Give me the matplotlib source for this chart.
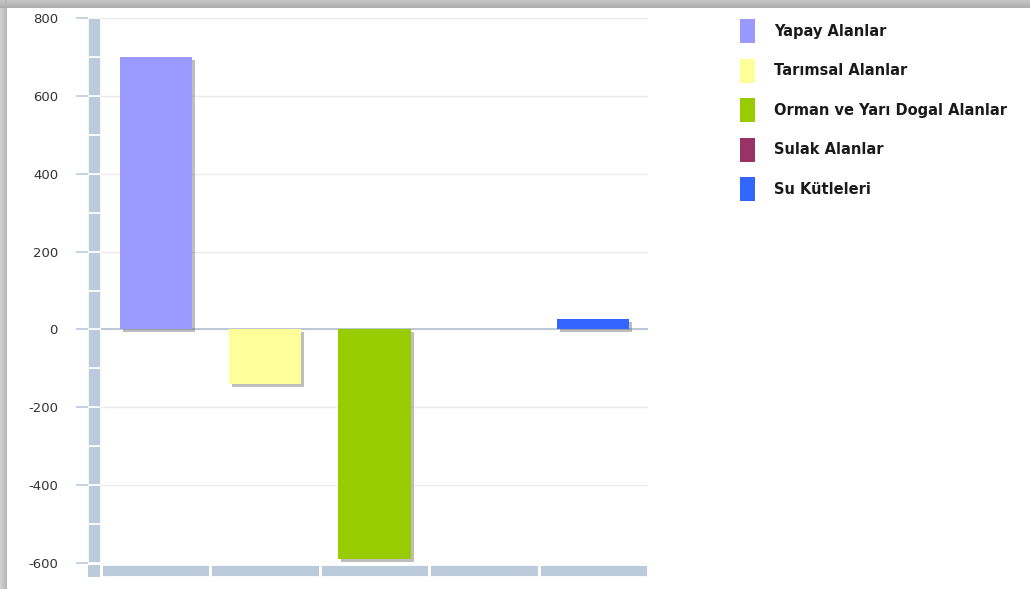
import numpy as np
import matplotlib
matplotlib.use("Agg")
import matplotlib.pyplot as plt
from matplotlib.patches import Patch
import matplotlib.patheffects as pe

plt.rcParams["axes.unicode_minus"] = False

# ---- data ----
categories = ["Yapay Alanlar", "Tarımsal Alanlar", "Orman ve Yarı Dogal Alanlar",
              "Sulak Alanlar", "Su Kütleleri"]
values = [700, -140, -590, 0, 28]
colors = ["#9999ff", "#ffff99", "#99cc00", "#993366", "#3366ff"]
yticks = [-600, -400, -200, 0, 200, 400, 600, 800]

W, H = 1030, 589
fig = plt.figure(figsize=(W / 100, H / 100), dpi=100)
fig.patch.set_facecolor("white")

# ---- card shadow frame (top and left) ----
bg = fig.add_axes([0, 0, 1, 1], zorder=-10)
rows = np.arange(H)[:, None]
cols = np.arange(W)[None, :]
top = np.where(rows < 8, 0.78 - 0.10 * (rows / 7.0), 1.0)
left = np.where(cols < 7, 0.82 - 0.10 * (cols / 6.0), 1.0)
shade = np.minimum(top, left)
img = np.repeat(shade[:, :, None], 3, axis=2)
bg.imshow(img, aspect="auto", extent=[0, W, H, 0], interpolation="nearest")
bg.set_axis_off()

barcol = "#bccbdb"
ylo, yhi = -600, 800
px_bottom = 563
px_top = 18

# ---- main axes ----
ax = fig.add_axes([101 / W, 1 - px_bottom / H, (648 - 101) / W, (px_bottom - px_top) / H])
ax.set_xlim(-0.5, len(categories) - 0.5)
ax.set_ylim(ylo, yhi)
for s in ax.spines.values():
    s.set_visible(False)
ax.set_yticks(yticks)
ax.yaxis.grid(True, color="#ebebeb", linewidth=1)
ax.set_axisbelow(True)
ax.tick_params(left=False, labelleft=False, bottom=False, labelbottom=False)
ax.axhline(0, color="#b5c4d3", linewidth=1.3, zorder=2)
x = np.arange(len(categories))
bars = ax.bar(x, values, width=0.66, color=colors, zorder=3)
for b in bars:
    b.set_path_effects([pe.SimplePatchShadow(offset=(2.2, -2.2), shadow_rgbFace="#707070", alpha=0.45),
                        pe.Normal()])

# ---- left thick axis bar ----
axL = fig.add_axes([88 / W, 1 - px_bottom / H, 13 / W, (px_bottom - px_top) / H])
axL.set_ylim(ylo, yhi)
axL.set_xlim(-0.5, 0.5)
edges = np.arange(ylo, yhi, 100)
axL.bar(np.zeros_like(edges), 100, bottom=edges, width=1.0, color=barcol,
        edgecolor="white", linewidth=1.2)
for s in axL.spines.values():
    s.set_visible(False)
axL.set_xticks([])
axL.set_yticks(yticks)
axL.tick_params(axis="y", direction="out", length=8.6, width=1.2, color=barcol,
                pad=13, labelsize=9.5, labelcolor="#333333")
axL.patch.set_alpha(0)

# ---- bottom thick axis bar ----
axB = fig.add_axes([101 / W, 1 - 577 / H, (648 - 101) / W, 13 / H])
axB.set_xlim(-0.5, len(categories) - 0.5)
axB.set_ylim(0, 1)
axB.bar(x, 1, width=1.0, color=barcol, edgecolor="white", linewidth=2.0)
axB.set_axis_off()

axC = fig.add_axes([88 / W, 1 - 577 / H, 12 / W, 12 / H])
axC.set_xlim(0, 1)
axC.set_ylim(0, 1)
axC.bar([0.5], [1], width=1.0, color=barcol)
axC.set_axis_off()

# ---- legend ----
fs = 10.5
fs_px = fs * 100 / 72
patch_h_pt = 24 * 72 / 100
hh = (patch_h_pt / fs - 0.245) / 0.65
handles = [Patch(facecolor=c, edgecolor="none") for c in colors]
leg = fig.legend(handles, categories, loc="upper left",
                 bbox_to_anchor=(740 / W, 1 - 19 / H), frameon=False,
                 borderaxespad=0, borderpad=0,
                 handlelength=15 / fs_px, handleheight=hh,
                 handletextpad=19 / fs_px, labelspacing=15.5 / fs_px,
                 prop={"size": fs, "weight": "bold"})
for t in leg.get_texts():
    t.set_color("#1a1a1a")

fig.savefig("out.png", dpi=100)
